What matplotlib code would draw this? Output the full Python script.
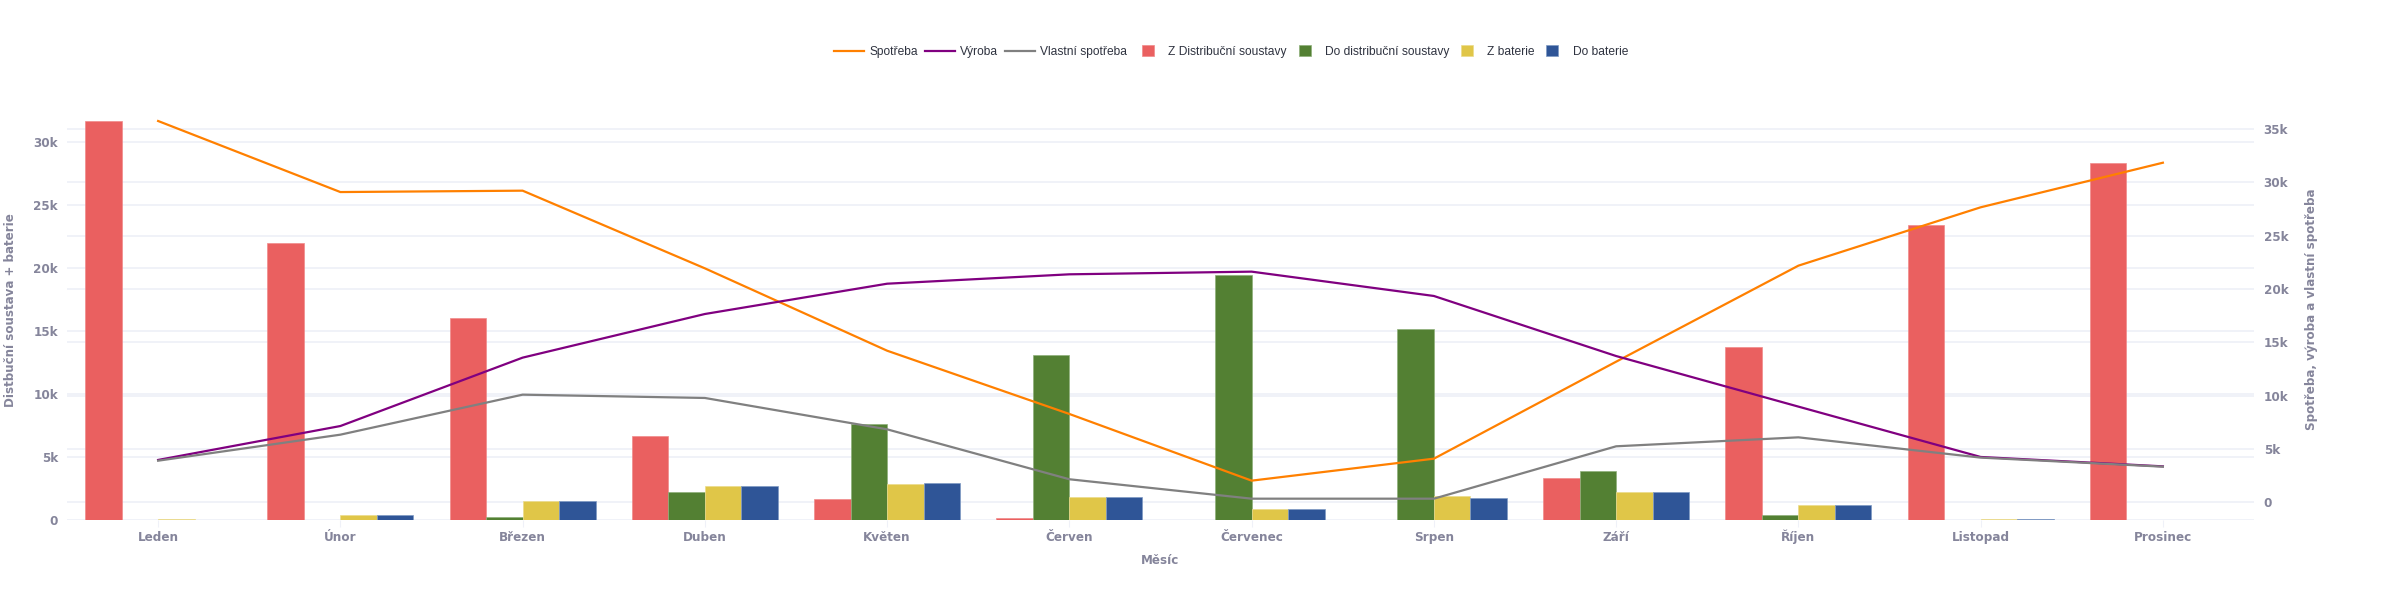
import numpy as np
import matplotlib
matplotlib.use("Agg")
import matplotlib.pyplot as plt
from matplotlib.lines import Line2D
from matplotlib.patches import Patch

months = ["Leden", "Únor", "Březen", "Duben", "Květen", "Červen", "Červenec", "Srpen", "Září", "Říjen", "Listopad", "Prosinec"]

z_distribucni = [31700, 21970, 16000, 6650, 1670, 100, 0, 0, 3290, 13700, 23400, 28400]
do_distribucni = [0, 0, 210, 2170, 7580, 13090, 19480, 15130, 3870, 370, 0, 0]
z_baterie = [50, 370, 1510, 2680, 2860, 1800, 850, 1855, 2200, 1170, 50, 0]
do_baterie = [0, 370, 1510, 2680, 2890, 1830, 850, 1750, 2170, 1170, 50, 0]

spotreba = [35740, 29080, 29210, 21930, 14210, 8280, 2030, 4090, 13180, 22180, 27650, 31830]
vyroba = [3970, 7150, 13560, 17650, 20490, 21370, 21620, 19340, 13710, 8970, 4250, 3370]
vlastni = [3900, 6340, 10090, 9780, 6840, 2160, 340, 340, 5250, 6090, 4190, 3340]

left_ticks = [0, 5000, 10000, 15000, 20000, 25000, 30000]
left_labels = ["0", "5k", "10k", "15k", "20k", "25k", "30k"]
right_ticks = [0, 5000, 10000, 15000, 20000, 25000, 30000, 35000]
right_labels = ["0", "5k", "10k", "15k", "20k", "25k", "30k", "35k"]

TXT = "#85859b"
GRID = "#eff1f8"
W, H = 2394, 600
plt.rcParams["font.family"] = ["Liberation Sans", "DejaVu Sans"]

fig = plt.figure(figsize=(W / 100, H / 100), dpi=100, facecolor="white")
rect = [67 / W, 1 - 519.7 / H, (2254 - 67) / W, (519.7 - 121) / H]

ax_bars = fig.add_axes(rect, zorder=1)
ax_right = fig.add_axes(rect, zorder=0)
ax_lines = fig.add_axes(rect, zorder=2)
for a in (ax_bars, ax_right, ax_lines):
    a.set_xlim(-0.5, 11.5)
    a.patch.set_visible(False)
    for s in a.spines.values():
        s.set_visible(False)
ax_right.patch.set_visible(True)
ax_right.set_facecolor("white")

ax_bars.set_ylim(0, 31700)
ax_right.set_ylim(-1630, 35740)
ax_lines.set_ylim(-1630, 35740)

x = np.arange(len(months))
bw = 0.2
series = [(z_distribucni, "#ea6060", "#f08a8a", "Z Distribuční soustavy"),
          (do_distribucni, "#538033", "#8fb07a", "Do distribuční soustavy"),
          (z_baterie, "#e0c648", "#ecdc8c", "Z baterie"),
          (do_baterie, "#2f5597", "#7f9ac4", "Do baterie")]
for i, (vals, col, edge, lab) in enumerate(series):
    ax_bars.bar(x + (i - 1.5) * bw, vals, bw, color=col, edgecolor=edge, zorder=3, linewidth=0.5)

line_series = [(spotreba, "#ff8000", "Spotřeba"),
               (vyroba, "#800080", "Výroba"),
               (vlastni, "#808080", "Vlastní spotřeba")]
for vals, col, lab in line_series:
    ax_lines.plot(x, vals, color=col, lw=1.6, clip_on=False, solid_joinstyle="round")
ax_lines.set_xticks([])
ax_lines.set_yticks([])

tick_font = dict(fontsize=8.64, fontweight="bold", color=TXT, family="DejaVu Sans")
ax_bars.set_yticks(left_ticks, left_labels, **tick_font)
ax_bars.tick_params(axis="y", length=0, pad=6.5)
ax_bars.grid(axis="y", color=GRID, lw=1.3, zorder=0)
ax_bars.set_axisbelow(True)
ax_bars.set_xticks(x, months, **tick_font)
ax_bars.tick_params(axis="x", length=5, width=0.8, color=GRID, pad=10.6)
for t in ax_bars.get_xticklabels():
    t.set_verticalalignment("baseline")

ax_right.yaxis.tick_right()
ax_right.set_yticks(right_ticks, right_labels, **tick_font)
ax_right.tick_params(axis="y", length=0, pad=7)
ax_right.grid(axis="y", color=GRID, lw=1.3)
ax_right.set_axisbelow(True)
ax_right.set_xticks([])

label_font = dict(fontsize=8.6, fontweight="bold", color=TXT, family="DejaVu Sans")
fig.text(1160.5 / W, 1 - 561 / H, "Měsíc", ha="center", va="center", **label_font)
fig.text(11 / W, 1 - 310 / H, "Distbuční soustava + baterie", rotation=90, ha="center", va="center", **label_font)
fig.text(2312 / W, 1 - 309.5 / H, "Spotřeba, výroba a vlastní spotřeba", rotation=90, ha="center", va="center", **label_font)

fs = 8.64
line_handles = [Line2D([], [], color=c, lw=1.6) for _, c, _ in line_series]
leg1 = fig.legend(line_handles, [l for _, _, l in line_series], loc="center left",
                  bbox_to_anchor=(834 / W, 1 - 51.7 / H), ncol=3, frameon=False,
                  fontsize=fs, handlelength=2.5, handletextpad=0.42, columnspacing=0.58,
                  borderpad=0, borderaxespad=0, labelcolor="#2f3340")
bar_handles = [Patch(facecolor=c, edgecolor=e, linewidth=0.5) for _, c, e, _ in series]
leg2 = fig.legend(bar_handles, [s[3] for s in series], loc="center left",
                  bbox_to_anchor=(1142 / W, 1 - 51.7 / H), ncol=4, frameon=False,
                  fontsize=fs, handlelength=1.0, handleheight=1.0, handletextpad=1.17,
                  columnspacing=1.0, borderpad=0, borderaxespad=0, labelcolor="#2f3340")

fig.savefig("out.png", dpi=100, facecolor="white")
